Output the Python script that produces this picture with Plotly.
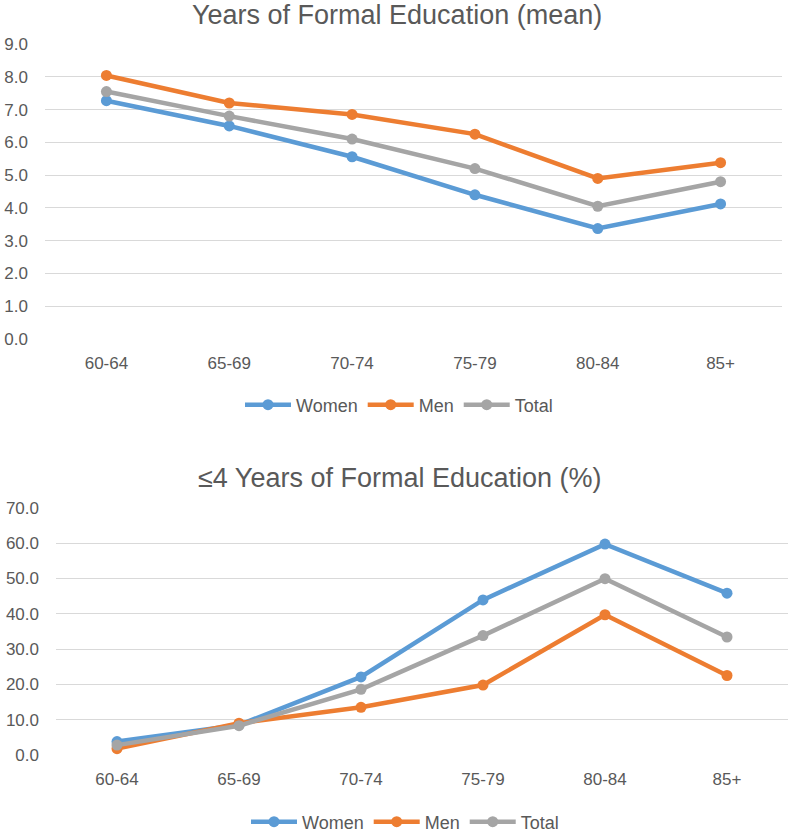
import plotly.graph_objects as go

categories = ["60-64", "65-69", "70-74", "75-79", "80-84", "85+"]

mean_women = [7.27, 6.5, 5.56, 4.4, 3.37, 4.12]
mean_men = [8.04, 7.2, 6.85, 6.25, 4.9, 5.38]
mean_total = [7.55, 6.8, 6.1, 5.2, 4.05, 4.8]

pct_women = [3.8, 8.5, 22.1, 43.9, 59.7, 45.8]
pct_men = [1.8, 9.0, 13.5, 19.8, 39.7, 22.5]
pct_total = [2.8, 8.3, 18.6, 33.8, 49.9, 33.4]

y_ticks_top = [0, 1, 2, 3, 4, 5, 6, 7, 8, 9]
y_ticks_bottom = [0, 10, 20, 30, 40, 50, 60, 70]

colors = {"Women": "#5B9BD5", "Men": "#ED7D31", "Total": "#A5A5A5"}
FONT = "Liberation Sans, Arial, sans-serif"
TXT = "#595959"

W, H = 792, 834

fig = go.Figure()

def add(name, x, y, xa, ya, legend):
    fig.add_trace(go.Scatter(
        x=x, y=y, name=name, mode="lines+markers",
        line=dict(color=colors[name], width=4.5),
        marker=dict(color=colors[name], size=11, symbol="circle"),
        xaxis=xa, yaxis=ya, legend=legend,
    ))

add("Women", categories, mean_women, "x", "y", "legend")
add("Men", categories, mean_men, "x", "y", "legend")
add("Total", categories, mean_total, "x", "y", "legend")
add("Women", categories, pct_women, "x2", "y2", "legend2")
add("Men", categories, pct_men, "x2", "y2", "legend2")
add("Total", categories, pct_total, "x2", "y2", "legend2")

def px_x(p):
    return p / W

def px_y(p):
    return 1 - p / H

common_x = dict(
    type="category", showgrid=False, zeroline=False, showline=False,
    ticks="", tickfont=dict(family=FONT, size=17, color=TXT),
    ticklabelstandoff=12, fixedrange=True, automargin=False,
)
common_y = dict(
    showgrid=True, gridcolor="#D9D9D9", gridwidth=1.3, zeroline=False,
    showline=False, ticks="", tickfont=dict(family=FONT, size=17, color=TXT),
    tickformat=".1f", ticklabelstandoff=16, fixedrange=True, automargin=False,
)

fig.update_layout(
    width=W, height=H,
    margin=dict(l=0, r=0, t=0, b=0, autoexpand=False),
    paper_bgcolor="white", plot_bgcolor="white",
    showlegend=True,
    xaxis=dict(common_x, domain=[px_x(45), px_x(782)], anchor="y",
               range=[-0.5, 5.5]),
    yaxis=dict(common_y, domain=[px_y(339), px_y(44)], anchor="x",
               range=[0, 9], tickvals=y_ticks_top),
    xaxis2=dict(common_x, domain=[px_x(56), px_x(788)], anchor="y2",
                range=[-0.5, 5.5]),
    yaxis2=dict(common_y, domain=[px_y(755), px_y(507.7)], anchor="x2",
                range=[0, 70], tickvals=y_ticks_bottom),
    legend=dict(orientation="h", x=px_x(399), xanchor="center", y=px_y(405),
                yanchor="middle", font=dict(family=FONT, size=18, color=TXT),
                itemwidth=46, bgcolor="rgba(0,0,0,0)"),
    legend2=dict(orientation="h", x=px_x(405), xanchor="center", y=px_y(822),
                 yanchor="middle", font=dict(family=FONT, size=18, color=TXT),
                 itemwidth=46, bgcolor="rgba(0,0,0,0)"),
    annotations=[
        dict(text="Years of Formal Education (mean)", x=px_x(397), y=px_y(15),
             xref="paper", yref="paper", xanchor="center", yanchor="middle",
             showarrow=False, font=dict(family=FONT, size=27, color=TXT)),
        dict(text="≤4 Years of Formal Education (%)", x=px_x(400), y=px_y(478),
             xref="paper", yref="paper", xanchor="center", yanchor="middle",
             showarrow=False, font=dict(family=FONT, size=27, color=TXT)),
    ],
)

fig.write_html(
    "out.html",
    config={"displayModeBar": False},
    post_script="document.body.style.margin='0';document.body.style.overflow='hidden';",
)
